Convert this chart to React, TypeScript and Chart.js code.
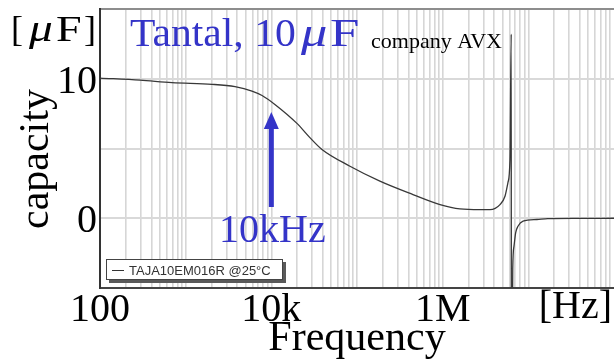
import { useEffect, useRef } from 'react';
import { Chart, registerables } from 'chart.js';

Chart.register(...registerables);

// Measured capacitance of a 10 µF tantalum capacitor versus frequency
const freqHz = [
  100, 293, 692, 2030, 3770, 5940, 7790, 11000, 19900, 28000, 39000, 82800,
  185000, 450000, 931000, 1590000, 2730000, 3570000, 4670000, 5340000, 5780000,
  6100000, 6320000, 6340000, 6580000, 6800000, 7120000, 7570000, 8670000,
  12600000, 16900000, 40000000, 100000000,
];
const capacityUF = [
  10.05, 9.9, 9.72, 9.6, 9.43, 9.12, 8.8, 8.16, 6.8, 5.8, 4.93, 3.73,
  2.66, 1.7, 0.98, 0.67, 0.62, 0.62, 0.98, 1.58, 2.56,
  4.2, 13.2, -20, -3.6, -2.0, -1.03, -0.57, -0.21,
  -0.09, -0.03, -0.01, 0,
];

const seriesName = 'TAJA10EM016R @25°C';

// axis ranges and labelled ticks
const xMin = 100;
const xMax = 1e8;
const yMin = -5;
const yMax = 15;
const yStep = 5;
const xDecades = [100, 1e3, 1e4, 1e5, 1e6, 1e7];
const xLabelValues = [100, 1e4, 1e6];
const xLabelTexts = ['100', '10k', '1M'];
const yLabelValues = [0, 10];
const yLabelTexts = ['0', '10'];
const markerFreq = 1e4;

const SERIF = '"Liberation Serif", "Times New Roman", serif';
const SANS = '"Liberation Sans", Arial, sans-serif';
const BLUE = '#3434c8';

function drawText(
  ctx: CanvasRenderingContext2D,
  text: string,
  x: number,
  y: number,
  font: string,
  color: string,
  align: CanvasTextAlign = 'left',
  sx = 1,
) {
  ctx.save();
  ctx.font = font;
  ctx.fillStyle = color;
  ctx.textAlign = align;
  ctx.textBaseline = 'alphabetic';
  ctx.translate(x, y);
  ctx.scale(sx, 1);
  ctx.fillText(text, 0, 0);
  ctx.restore();
}

const annotations = {
  id: 'annotations',
  afterDraw(chart: Chart) {
    const { ctx, chartArea } = chart;
    const xs = chart.scales.x;
    const ys = chart.scales.y;

    // tick labels
    xLabelValues.forEach((v, i) => {
      drawText(ctx, xLabelTexts[i], xs.getPixelForValue(v), 321, `40px ${SERIF}`, '#000', 'center');
    });
    drawText(ctx, '[Hz]', 612, 318, `40px ${SERIF}`, '#000', 'right');
    yLabelValues.forEach((v, i) => {
      drawText(ctx, yLabelTexts[i], chartArea.left - 3, ys.getPixelForValue(v) + 14, `40px ${SERIF}`, '#000', 'right');
    });

    // axis titles
    drawText(ctx, 'Frequency', 357, 350, `42px ${SERIF}`, '#000', 'center');
    ctx.save();
    ctx.translate(48, 159);
    ctx.rotate(-Math.PI / 2);
    drawText(ctx, 'capacity', 0, 0, `42px ${SERIF}`, '#000', 'center');
    ctx.restore();

    // unit of the y axis
    drawText(ctx, '[', 11, 41, `36px ${SERIF}`, '#000');
    drawText(ctx, 'μ', 29, 41, `italic 37px ${SERIF}`, '#000', 'left', 1.28);
    drawText(ctx, 'F', 56, 41, `36px ${SERIF}`, '#000', 'left', 1.28);
    drawText(ctx, ']', 84, 41, `36px ${SERIF}`, '#000');

    // title
    drawText(ctx, 'Tantal, 10', 130, 46, `40px ${SERIF}`, BLUE, 'left', 1.04);
    drawText(ctx, 'μ', 301, 46, `italic 41px ${SERIF}`, BLUE, 'left', 1.28);
    drawText(ctx, 'F', 330, 46, `40px ${SERIF}`, BLUE, 'left', 1.32);
    drawText(ctx, 'company AVX', 371, 48, `22px ${SERIF}`, '#000');

    // arrow marking 10 kHz
    const ax = xs.getPixelForValue(markerFreq);
    ctx.save();
    ctx.fillStyle = BLUE;
    ctx.fillRect(ax - 2.5, 126, 5, 81);
    ctx.beginPath();
    ctx.moveTo(ax, 112);
    ctx.lineTo(ax + 7.5, 129);
    ctx.lineTo(ax - 7.5, 129);
    ctx.closePath();
    ctx.fill();
    ctx.restore();
    drawText(ctx, '10kHz', ax + 1, 242, `40px ${SERIF}`, BLUE, 'center');

    // legend box with shadow
    ctx.save();
    ctx.fillStyle = '#5a5a5a';
    ctx.fillRect(109, 262, 177, 21);
    ctx.fillStyle = '#fff';
    ctx.fillRect(106, 259, 177, 21);
    ctx.strokeStyle = '#444';
    ctx.lineWidth = 1;
    ctx.strokeRect(106.5, 259.5, 176, 20);
    ctx.strokeStyle = '#333';
    ctx.beginPath();
    ctx.moveTo(112, 270.5);
    ctx.lineTo(124, 270.5);
    ctx.stroke();
    ctx.restore();
    const label = (chart.data.datasets[0].label as string) || seriesName;
    drawText(ctx, label, 129, 275, `13px ${SANS}`, '#333');
  },
};

export default function App() {
  const canvasRef = useRef<HTMLCanvasElement | null>(null);

  useEffect(() => {
    if (!canvasRef.current) return;
    const chart = new Chart(canvasRef.current, {
      type: 'line',
      data: {
        datasets: [
          {
            label: seriesName,
            data: freqHz.map((f, i) => ({ x: f, y: capacityUF[i] })),
            borderColor: '#383838',
            borderWidth: 1.3,
            pointRadius: 0,
            cubicInterpolationMode: 'monotone',
            fill: false,
          },
        ],
      },
      options: {
        animation: false,
        responsive: false,
        devicePixelRatio: 1,
        layout: { padding: { top: 9, left: 0, right: 0, bottom: 0 } },
        plugins: {
          legend: { display: false },
          tooltip: { enabled: false },
        },
        scales: {
          x: {
            type: 'logarithmic',
            min: xMin,
            max: xMax,
            afterBuildTicks: (scale: any) => {
              const ticks: { value: number }[] = [];
              xDecades.forEach((d) => {
                for (let m = 1; m <= 9; m++) ticks.push({ value: d * m });
              });
              scale.ticks = ticks;
            },
            afterFit: (scale: any) => {
              scale.height = 72;
            },
            ticks: { display: false },
            grid: { color: '#d6d6d6', lineWidth: 1.6, drawTicks: false, tickLength: 0 },
            border: { color: '#444', width: 2 },
          },
          y: {
            type: 'linear',
            min: yMin,
            max: yMax,
            afterFit: (scale: any) => {
              scale.width = 100;
            },
            ticks: { display: false, stepSize: yStep },
            grid: {
              color: (c: any) => (c.tick && c.tick.value === yMax ? '#8d8d8d' : '#d9d9d9'),
              lineWidth: 2,
              drawTicks: false,
              tickLength: 0,
            },
            border: { color: '#333', width: 2 },
          },
        },
      },
      plugins: [annotations],
    });
    return () => chart.destroy();
  }, []);

  return (
    <div style={{ position: 'fixed', left: 0, top: 0, width: 614, height: 360, background: '#fff' }}>
      <canvas ref={canvasRef} width={614} height={360} style={{ display: 'block' }} />
    </div>
  );
}
